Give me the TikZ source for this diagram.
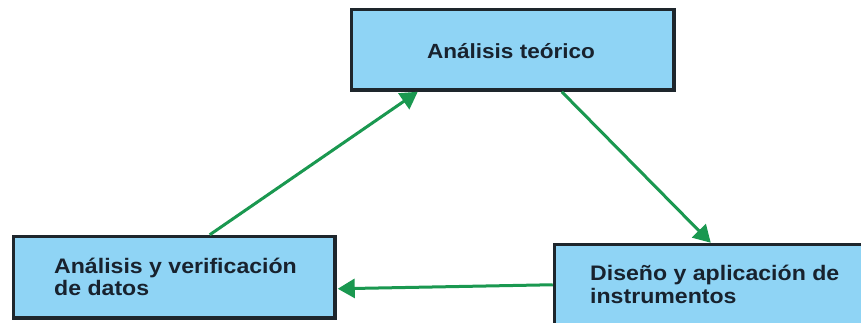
\documentclass[tikz,border=0pt]{standalone}
\usepackage{fontspec}
\newfontfamily\labelfont{Liberation Sans}[FakeStretch=1.1]
\usetikzlibrary{arrows.meta,calc}
\definecolor{boxfill}{RGB}{143,212,245}
\definecolor{boxline}{RGB}{30,38,44}
\definecolor{flowgreen}{RGB}{26,152,80}
\definecolor{labelink}{RGB}{24,34,46}
\tikzset{
  stage/.style={draw=boxline, fill=boxfill, line width=3.5pt, rectangle,
    inner sep=0pt, anchor=north west},
  stagetext/.style={font=\labelfont\bfseries\fontsize{21}{23}\selectfont,
    text=labelink, inner sep=0pt},
  flow/.style={draw=flowgreen, line width=3pt,
    -{Triangle[length=17pt,width=19pt]}},
}
\begin{document}
\begin{tikzpicture}[x=1pt,y=-1pt]
\useasboundingbox (0,0) rectangle (861,322);
\clip (0,0) rectangle (861,322);
\fill[white] (0,0) rectangle (861,322);

% the three stages of the cycle
\node[stage, minimum width=322.5pt, minimum height=80.5pt] (theory) at (349.75,7.75) {};
\node[stage, minimum width=321.5pt, minimum height=81.5pt] (analysis) at (11.75,234.75) {};
\node[stage, minimum width=340pt, minimum height=100pt] (design) at (552.75,242.75) {};

% stage labels
\node[stagetext, anchor=base, font=\labelfont\bfseries\fontsize{20.5}{23}\selectfont]
  (theorylabel) at (511,58) {Análisis teórico};
\node[stagetext, anchor=base west] (analysislabel1) at (54,273) {Análisis y verificación};
\node[stagetext, anchor=base west] (analysislabel2) at (54,295) {de datos};
\node[stagetext, anchor=base west] (designlabel1) at (590,280) {Diseño y aplicación de};
\node[stagetext, anchor=base west] (designlabel2) at (590,303) {instrumentos};

% connectors between the stages (shifts are in canvas pt, up is positive)
\draw[flow] ([xshift=198pt]analysis.north west) -- ([xshift=68pt]theory.south west);
\draw[flow] ([xshift=212pt]theory.south west) -- ([xshift=158pt]design.north west);
\draw[flow] ([yshift=-42pt]design.north west) -- ([yshift=-54pt,xshift=1pt]analysis.north east);
\end{tikzpicture}
\end{document}
